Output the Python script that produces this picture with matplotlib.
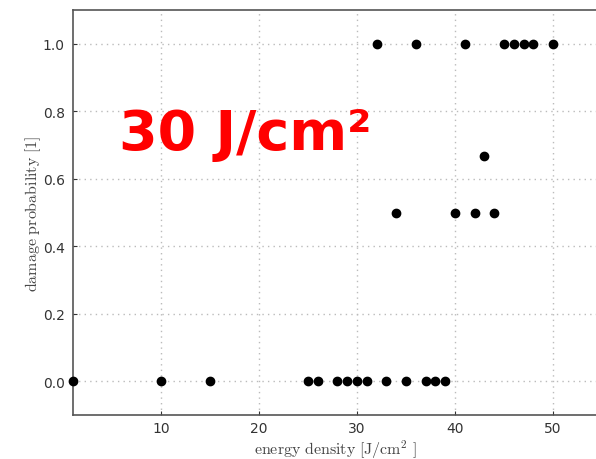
import matplotlib
matplotlib.use("Agg")
import matplotlib.pyplot as plt

x_zero = [1, 10, 15, 25, 26, 28, 29, 30, 31, 33, 35, 37, 38, 39]
x_half = [34, 40, 42, 44]
x_twothird = [43]
x_one = [32, 36, 41, 45, 46, 47, 48, 50]

energy = x_zero + x_half + x_twothird + x_one
prob = [0.0]*len(x_zero) + [0.5]*len(x_half) + [2/3]*len(x_twothird) + [1.0]*len(x_one)

xticks = [10, 20, 30, 40, 50]
yticks = [0.0, 0.2, 0.4, 0.6, 0.8, 1.0]

plt.rcParams['mathtext.fontset'] = 'cm'

fig = plt.figure(figsize=(5.96, 4.60), dpi=100)
ax_w = 1 - 73/596 + 0.01
ax = fig.add_axes([73/596, 44/460, ax_w, 405/460])
ax.plot(energy, prob, 'o', color='black', markersize=6, clip_on=False, zorder=3)
ax.set_xlim(1, 55)
ax.set_ylim(-0.1, 1.1)
ax.set_xticks(xticks)
ax.set_yticks(yticks)
ax.set_yticklabels([f"{v:.1f}" for v in yticks])
ax.grid(True, linestyle=(0, (1, 3)), color='#bbbbbb', linewidth=1)
ax.tick_params(direction='in', length=3, labelsize=10, colors='#333333')
ax.tick_params(axis='x', pad=4)
ax.tick_params(axis='y', pad=6)
for s in ax.spines.values():
    s.set_color('#555555')
    s.set_linewidth(1.2)
ax.set_xlabel(r"$\mathrm{energy\ density\ [J/cm^2\ ]}$", fontsize=11.5, color='#444444')
ax.set_ylabel(r"$\mathrm{damage\ probability\ [1]}$", fontsize=11.5, color='#444444')
ax.xaxis.set_label_coords((335-73)/(596*ax_w), -(450-416)/405)
ax.xaxis.label.set_va('center')
ax.yaxis.set_label_coords(-(73-33)/(596*ax_w), 0.5)
ax.yaxis.label.set_va('center')

fig.text(119/596, 1 - 150/460, "30 J/cm²", color='red', fontsize=40,
         fontweight='bold', family='DejaVu Sans')

fig.savefig("out.png", dpi=100)
